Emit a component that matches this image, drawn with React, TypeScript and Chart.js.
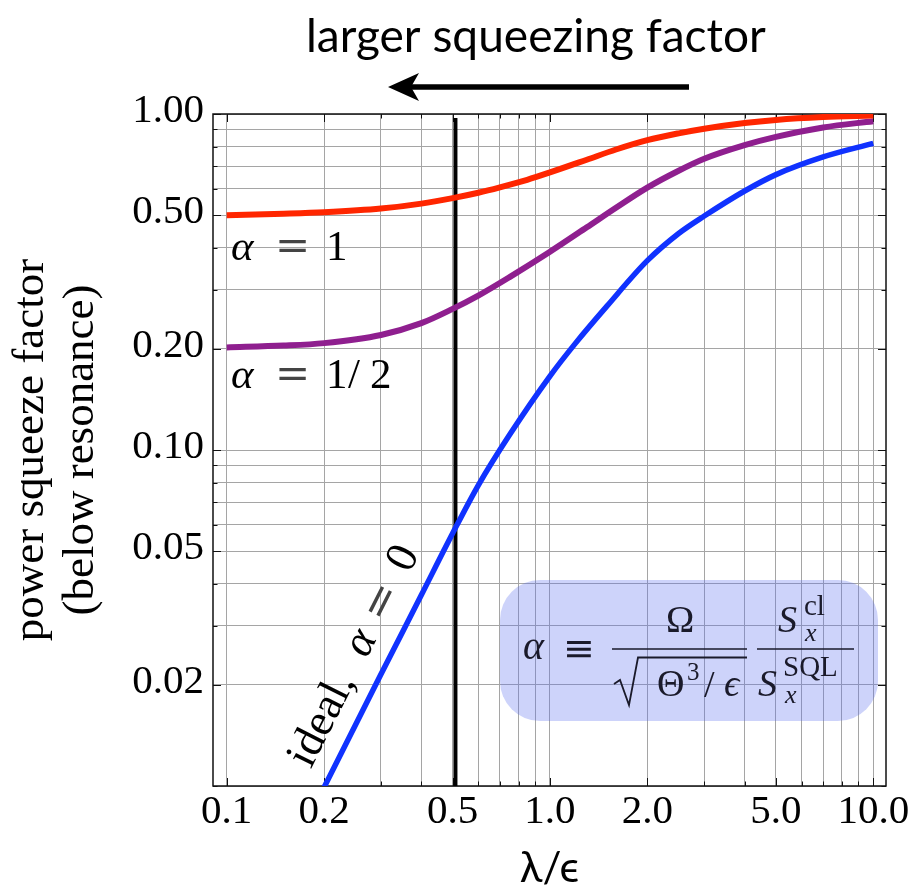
import React, { useEffect, useRef } from "react";
import { Chart, registerables } from "chart.js";

Chart.register(...registerables);

// ---- data (log-log plot) ----
const redX = [0.1, 0.15, 0.2, 0.3, 0.4, 0.5, 0.6, 0.7, 0.85, 1, 1.3, 1.6, 2, 2.5, 3, 4, 5, 7, 10];
const redY = [0.5, 0.505, 0.51, 0.523, 0.541, 0.562, 0.583, 0.605, 0.637, 0.67, 0.731, 0.784, 0.836, 0.876, 0.904, 0.94, 0.96, 0.979, 0.99];

const purpleX = [0.1, 0.15, 0.2, 0.3, 0.4, 0.5, 0.6, 0.75, 1, 1.3, 1.6, 2, 2.5, 3, 4, 5, 7, 10];
const purpleY = [0.202, 0.2045, 0.208, 0.22, 0.2385, 0.263, 0.288, 0.327, 0.389, 0.46, 0.526, 0.604, 0.678, 0.736, 0.808, 0.855, 0.912, 0.952];

const blueX = [0.2, 0.3, 0.4, 0.5, 0.6, 0.75, 1, 1.2, 1.5, 2, 2.5, 3, 4, 5, 7, 10];
const blueY = [0.0099, 0.0215, 0.037, 0.0565, 0.0785, 0.111, 0.166, 0.208, 0.268, 0.366, 0.441, 0.497, 0.59, 0.66, 0.745, 0.818];

const markerX = [0.51, 0.51];
const markerY = [0.01, 0.973];

// ---- axes ----
const xMin = 0.0907;
const xMax = 10.95;
const yMin = 0.01;
const yMax = 1.0;
const xGridTicks = [0.1, 0.2, 0.3, 0.4, 0.5, 0.6, 0.7, 0.8, 0.9, 1, 2, 3, 4, 5, 6, 7, 8, 9, 10];
const xLabelTicks = [0.1, 0.2, 0.5, 1, 2, 5, 10];
const yGridTicks = [0.01, 0.02, 0.03, 0.04, 0.05, 0.06, 0.07, 0.08, 0.09, 0.1, 0.2, 0.3, 0.4, 0.5, 0.6, 0.7, 0.8, 0.9, 1];
const yLabelTicks = [0.02, 0.05, 0.1, 0.2, 0.5, 1];

const SERIF = "'Liberation Serif', 'Times New Roman', serif";
const SERIF_X = "'Liberation Serif', 'DejaVu Serif', serif";
const EQ = "'DejaVu Serif', serif";
const SANS = "Lato, 'Open Sans', 'DejaVu Sans', sans-serif";

const has = (list: number[], v: number) => list.some((t) => Math.abs(t - v) < 1e-9);
const pts = (xs: number[], ys: number[]) => xs.map((x, i) => ({ x, y: ys[i] }));

function txt(ctx: CanvasRenderingContext2D, s: string, x: number, y: number, size: number, o: any = {}) {
  ctx.font = `${o.italic ? "italic " : ""}${size}px ${o.family || SERIF}`;
  ctx.fillStyle = o.color || "#000";
  ctx.textAlign = o.align || "left";
  ctx.textBaseline = "alphabetic";
  ctx.fillText(s, x, y);
}

function roundRect(ctx: CanvasRenderingContext2D, x: number, y: number, w: number, h: number, r: number) {
  ctx.beginPath();
  ctx.moveTo(x + r, y);
  ctx.lineTo(x + w - r, y);
  ctx.arcTo(x + w, y, x + w, y + r, r);
  ctx.lineTo(x + w, y + h - r);
  ctx.arcTo(x + w, y + h, x + w - r, y + h, r);
  ctx.lineTo(x + r, y + h);
  ctx.arcTo(x, y + h, x, y + h - r, r);
  ctx.lineTo(x, y + r);
  ctx.arcTo(x, y, x + r, y, r);
  ctx.closePath();
}

function line(ctx: CanvasRenderingContext2D, x1: number, y1: number, x2: number, y2: number) {
  ctx.beginPath();
  ctx.moveTo(x1, y1);
  ctx.lineTo(x2, y2);
  ctx.stroke();
}

const decor = {
  id: "decor",
  beforeDatasetsDraw(chart: any) {
    const { ctx, chartArea: a, scales } = chart;
    const xs = scales.x;
    const ys = scales.y;
    ctx.save();
    // formula box
    ctx.fillStyle = "rgba(90,110,240,0.3)";
    roundRect(ctx, 500, 580, 378, 141, 40);
    ctx.fill();
    // frame
    ctx.strokeStyle = "#111";
    ctx.lineWidth = 1.5;
    ctx.strokeRect(a.left, a.top, a.right - a.left, a.bottom - a.top);
    // inward tick marks
    ctx.lineWidth = 1;
    for (const v of xGridTicks) {
      const px = Math.round(xs.getPixelForValue(v)) + 0.5;
      const L = has(xLabelTicks, v) ? 8 : 4.5;
      line(ctx, px, a.bottom, px, a.bottom - L);
      line(ctx, px, a.top, px, a.top + L);
    }
    for (const v of yGridTicks) {
      const py = Math.round(ys.getPixelForValue(v)) + 0.5;
      const L = has(yLabelTicks, v) ? 8 : 4.5;
      line(ctx, a.left, py, a.left + L, py);
      line(ctx, a.right, py, a.right - L, py);
    }
    ctx.restore();
  },
  afterDatasetsDraw(chart: any) {
    const { ctx, scales } = chart;
    const xs = scales.x;
    const ys = scales.y;
    ctx.save();
    // alpha labels
    txt(ctx, "α", 231, 260, 43, { italic: true });
    txt(ctx, "=", 275, 260, 42, { family: EQ, color: "#444" });
    txt(ctx, "1", 326, 260, 43);

    txt(ctx, "α", 231, 388, 43, { italic: true });
    txt(ctx, "=", 275, 388, 42, { family: EQ, color: "#444" });
    txt(ctx, "1", 326, 388, 43);
    txt(ctx, "/", 348, 388, 43);
    txt(ctx, "2", 370, 388, 43);

    // rotated ideal label along the blue line
    const p0x = xs.getPixelForValue(blueX[0]);
    const p0y = ys.getPixelForValue(blueY[0]);
    const p1x = xs.getPixelForValue(blueX[3]);
    const p1y = ys.getPixelForValue(blueY[3]);
    const ang = Math.atan2(p1y - p0y, p1x - p0x);
    const ux = Math.cos(ang), uy = Math.sin(ang);
    const nx = uy, ny = -ux; // perpendicular (toward upper-left)
    const sx = p0x + ux * 10 + nx * 20;
    const sy = p0y + uy * 10 + ny * 20;
    ctx.translate(sx, sy);
    ctx.rotate(ang);
    txt(ctx, "ideal,", 0, 0, 45);
    txt(ctx, "α", 124, 0, 45, { italic: true });
    txt(ctx, "=", 163, 0, 44, { family: EQ, color: "#444" });
    txt(ctx, "0", 219, 0, 45);
    ctx.setTransform(1, 0, 0, 1, 0, 0);

    // formula in the box
    const c = "#1a1a2a";
    txt(ctx, "α", 523, 659, 40, { italic: true, color: c });
    txt(ctx, "≡", 563, 661, 38, { family: EQ, color: c });
    ctx.strokeStyle = c;
    ctx.lineWidth = 1.6;
    line(ctx, 612, 649, 747, 649);
    line(ctx, 757, 649, 854, 649);
    txt(ctx, "Ω", 680, 632, 38, { align: "center", color: c });
    // radical sign
    ctx.lineWidth = 1.8;
    ctx.lineJoin = "miter";
    ctx.beginPath();
    ctx.moveTo(614, 684);
    ctx.lineTo(620, 680);
    ctx.lineTo(629, 705);
    ctx.lineTo(638, 657.5);
    ctx.lineTo(747, 657.5);
    ctx.stroke();
    txt(ctx, "Θ", 657, 696, 38, { color: c });
    txt(ctx, "3", 687, 680, 25, { color: c });
    txt(ctx, "/", 704, 697, 38, { color: c });
    txt(ctx, "ϵ", 724, 696, 38, { italic: true, family: SERIF_X, color: c });
    txt(ctx, "S", 778, 632, 38, { italic: true, color: c });
    txt(ctx, "cl", 804, 615, 29, { color: c });
    txt(ctx, "x", 805, 641, 26, { italic: true, color: c });
    txt(ctx, "S", 758, 696, 38, { italic: true, color: c });
    txt(ctx, "SQL", 783, 676, 29, { color: c });
    txt(ctx, "x", 785, 703, 26, { italic: true, color: c });
    ctx.restore();
  },
  afterDraw(chart: any) {
    const { ctx } = chart;
    ctx.save();
    // top caption fitted to its width in the reference
    const s = "larger squeezing factor";
    ctx.font = `50px ${SANS}`;
    const w = ctx.measureText(s).width;
    const size = (50 * 460) / w;
    txt(ctx, s, 306, 52, size, { family: SANS });
    // arrow
    ctx.strokeStyle = "#000";
    ctx.lineWidth = 5.5;
    line(ctx, 689, 87, 408, 87);
    ctx.fillStyle = "#000";
    ctx.beginPath();
    ctx.moveTo(388, 87);
    ctx.lineTo(419, 73);
    ctx.lineTo(411, 87);
    ctx.lineTo(419, 101);
    ctx.closePath();
    ctx.fill();
    ctx.restore();
  },
};

export default function App() {
  const ref = useRef<HTMLCanvasElement>(null);
  useEffect(() => {
    const canvas = ref.current!;
    const chart = new Chart(canvas, {
      type: "line",
      data: {
        datasets: [
          {
            label: "α = 1",
            data: pts(redX, redY),
            borderColor: "rgb(255,38,0)",
            borderWidth: 6,
            pointRadius: 0,
            cubicInterpolationMode: "monotone",
            fill: false,
          },
          {
            label: "α = 1/2",
            data: pts(purpleX, purpleY),
            borderColor: "rgb(143,31,143)",
            borderWidth: 6,
            pointRadius: 0,
            cubicInterpolationMode: "monotone",
            fill: false,
          },
          {
            label: "ideal, α = 0",
            data: pts(blueX, blueY),
            borderColor: "rgb(16,50,255)",
            borderWidth: 5.5,
            pointRadius: 0,
            cubicInterpolationMode: "monotone",
            fill: false,
            clip: 0,
          },
          {
            label: "λ/ϵ = 0.5",
            data: pts(markerX, markerY),
            borderColor: "#000",
            borderWidth: 4,
            pointRadius: 0,
            fill: false,
            clip: 0,
          },
        ],
      } as any,
      options: {
        animation: false,
        responsive: false,
        maintainAspectRatio: false,
        layout: { padding: { top: 114, right: 28, left: 0, bottom: 0 } },
        plugins: { legend: { display: false }, tooltip: { enabled: false }, title: { display: false } },
        scales: {
          x: {
            type: "logarithmic",
            min: xMin,
            max: xMax,
            afterBuildTicks: (s: any) => {
              s.ticks = xGridTicks.map((v) => ({ value: v }));
            },
            afterFit: (s: any) => {
              s.height = 106;
              s.paddingLeft = 0;
              s.paddingRight = 0;
            },
            ticks: {
              autoSkip: false,
              maxRotation: 0,
              minRotation: 0,
              padding: 2,
              color: "#000",
              font: { family: SERIF, size: 41, lineHeight: 1.2 },
              callback: (v: any) => {
                const n = Number(v);
                if (!has(xLabelTicks, n)) return "";
                return n < 1 ? String(n) : n.toFixed(1);
              },
            },
            grid: { color: "#a5a5a5", lineWidth: 1, drawTicks: false },
            border: { display: false },
            title: {
              display: true,
              text: "λ/ϵ",
              color: "#000",
              font: { family: SANS, size: 42, lineHeight: 1.2 },
              padding: { top: 0, bottom: -2 },
            },
          },
          y: {
            type: "logarithmic",
            min: yMin,
            max: yMax,
            afterBuildTicks: (s: any) => {
              s.ticks = yGridTicks.map((v) => ({ value: v }));
            },
            afterFit: (s: any) => {
              s.width = 213;
              s.paddingTop = 0;
              s.paddingBottom = 0;
            },
            ticks: {
              autoSkip: false,
              padding: 9,
              labelOffset: -3,
              color: "#000",
              font: { family: SERIF, size: 41, lineHeight: 1.2 },
              callback: (v: any) => {
                const n = Number(v);
                if (!has(yLabelTicks, n)) return "";
                return n.toFixed(2);
              },
            },
            grid: { color: "#a5a5a5", lineWidth: 1, drawTicks: false },
            border: { display: false },
            title: {
              display: true,
              text: ["power squeeze factor", "(below resonance)"],
              color: "#000",
              font: { family: SERIF, size: 45, lineHeight: 1.12 },
              padding: { top: 6, bottom: 0 },
            },
          },
        },
      } as any,
      plugins: [decor],
    });
    return () => chart.destroy();
  }, []);
  return (
    <div style={{ position: "absolute", left: 0, top: 0, width: 914, height: 892, background: "#fff" }}>
      <canvas ref={ref} width={914} height={892} style={{ display: "block", width: 914, height: 892 }} />
    </div>
  );
}
